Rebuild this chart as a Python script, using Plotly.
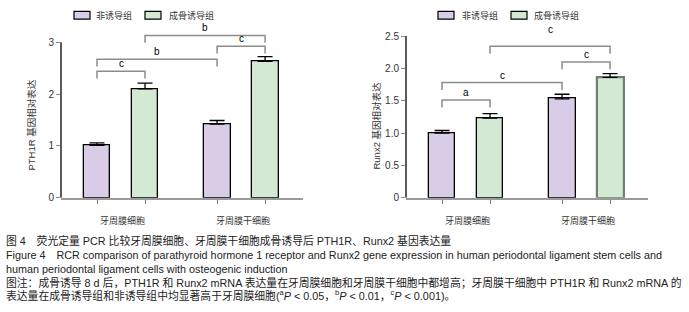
import plotly.graph_objects as go

# ---------------- data ----------------
groups = ["牙周膜细胞", "牙周膜干细胞"]
series_names = ["非诱导组", "成骨诱导组"]
bar_pos = [0, 1, 2.5, 3.5]          # non-induced/induced for each cell type
group_pos = [0.5, 3.0]

pth1r_mean = [1.01, 2.10, 1.42, 2.63]
pth1r_sd = [0.05, 0.11, 0.07, 0.09]
runx2_mean = [1.00, 1.23, 1.53, 1.86]
runx2_sd = [0.04, 0.07, 0.07, 0.06]

# significance brackets: (bar index a, bar index b, line height, label)
pth1r_sig = [(0, 1, 2.44, "c"), (0, 2, 2.67, "b"), (2, 3, 2.92, "c"), (1, 3, 3.13, "b")]
runx2_sig = [(0, 1, 1.51, "a"), (0, 2, 1.78, "c"), (2, 3, 2.10, "c"), (1, 3, 2.34, "c")]

y1_ticks = [0, 1, 2, 3]
y1_ticktext = ["0", "1", "2", "3"]
y2_ticks = [0, 0.5, 1.0, 1.5, 2.0, 2.5]
y2_ticktext = ["0", "0.5", "1.0", "1.5", "2.0", "2.5"]

caption = [
    "图 4　荧光定量 PCR 比较牙周膜细胞、牙周膜干细胞成骨诱导后 PTH1R、Runx2 基因表达量",
    "Figure 4　RCR comparison of parathyroid hormone 1 receptor and Runx2 gene expression in human periodontal ligament stem cells and",
    "human periodontal ligament cells with osteogenic induction",
    "图注：成骨诱导 8 d 后，PTH1R 和 Runx2 mRNA 表达量在牙周膜细胞和牙周膜干细胞中都增高；牙周膜干细胞中 PTH1R 和 Runx2 mRNA 的",
    "表达量在成骨诱导组和非诱导组中均显著高于牙周膜细胞(<sup>a</sup><i>P</i> < 0.05，<sup>b</sup><i>P</i> < 0.01，<sup>c</sup><i>P</i> < 0.001)。",
]

# ---------------- style ----------------
W, H = 689, 312
FONT = "Liberation Sans, Arial, Noto Sans CJK SC, sans-serif"
PURPLE = "#d8cce6"
GREEN = "#d3e9d3"
fills = [PURPLE, GREEN, PURPLE, GREEN]
GRAY = "#8c8c8c"

fig = go.Figure()

panels = [
    dict(x="x", y="y", mean=pth1r_mean, sd=pth1r_sd, sig=pth1r_sig, leg=0.14,
         dom=[61 / W, 303 / W], yr=[0, 3.518], ticks=y1_ticks, ttxt=y1_ticktext,
         ytitle="PTH1R 基因相对表达", ymax=3,
         lines=["black"] * 4, lw=[1.3] * 4),
    dict(x="x2", y="y2", mean=runx2_mean, sd=runx2_sd, sig=runx2_sig, leg=0.115,
         dom=[406 / W, 648 / W], yr=[0, 2.82], ticks=y2_ticks, ttxt=y2_ticktext,
         ytitle="Runx2 基因相对表达", ymax=2.5,
         lines=["black", "black", "black", "#6f806f"], lw=[1.3, 1.3, 1.3, 2.2]),
]

shapes = []
annotations = []
ydom = [(312 - 201.7) / H, 0.95]

for k, p in enumerate(panels):
    fig.add_trace(go.Bar(
        x=bar_pos, y=p["mean"], width=0.56, xaxis=p["x"], yaxis=p["y"],
        marker=dict(color=fills, line=dict(color=p["lines"], width=p["lw"])),
        error_y=dict(type="data", symmetric=False, array=p["sd"], arrayminus=[0] * 4,
                     color="black", thickness=1.3, width=7.5),
        showlegend=False, hoverinfo="skip",
    ))
    xa = "xaxis" if k == 0 else "xaxis2"
    ya = "yaxis" if k == 0 else "yaxis2"
    fig.layout[xa] = dict(domain=p["dom"], range=[-0.75, 4.29], anchor=p["y"],
                          showline=True, linecolor="#9a9a9a", linewidth=1.5,
                          ticks="outside", tickvals=bar_pos, ticklen=4, tickcolor="#7a7a7a",
                          tickwidth=1, showticklabels=False, showgrid=False, zeroline=False,
                          fixedrange=True)
    fig.layout[ya] = dict(domain=ydom, range=p["yr"], anchor=p["x"], showline=False,
                          ticks="outside", tickvals=p["ticks"], ticktext=p["ttxt"],
                          ticklen=4, tickcolor="#8a8a8a", tickwidth=1,
                          tickfont=dict(size=10, color="#333333", family=FONT),
                          showgrid=False, zeroline=False, fixedrange=True)
    # y axis line (stops at top tick)
    shapes.append(dict(type="line", xref="paper", yref=p["y"], x0=p["dom"][0], x1=p["dom"][0],
                       y0=0, y1=p["ymax"], line=dict(color="black", width=1.3)))
    # y axis title
    annotations.append(dict(text=p["ytitle"], xref="paper", yref="paper",
                            x=p["dom"][0] - 29 / W, y=(312 - 128) / H,
                            textangle=-90, showarrow=False, xanchor="center", yanchor="middle",
                            font=dict(size=9.5, color="#333333", family=FONT)))
    # group labels
    for g, gp in zip(groups, group_pos):
        annotations.append(dict(text=g, xref=p["x"], yref="paper", x=gp + 0.03,
                                y=(312 - 225) / H, showarrow=False, xanchor="center",
                                yanchor="middle", font=dict(size=9, color="#333333", family=FONT)))
    # significance brackets
    for i, j, h, lab in p["sig"]:
        xa_, xb_ = bar_pos[i], bar_pos[j]
        shapes.append(dict(type="path", xref=p["x"], yref=p["y"],
                           path=f"M{xa_},{h - p['leg']} L{xa_},{h} L{xb_},{h} L{xb_},{h - p['leg']}",
                           line=dict(color=GRAY, width=1.5)))
        off = 0.0
        if k == 1 and (i, j) == (1, 3):
            off = 0.14
        annotations.append(dict(text=lab, xref=p["x"], yref=p["y"], x=(xa_ + xb_) / 2,
                                y=h + off, showarrow=False, xanchor="center", yanchor="bottom",
                                font=dict(size=10, color="black", family=FONT)))

# legends (drawn in paper coordinates)
legend_sets = [(74, 94, 145, 167), (438, 460, 511, 532)]
for bx1, tx1, bx2, tx2 in legend_sets:
    for bx, tx, col, name in [(bx1, tx1, PURPLE, series_names[0]), (bx2, tx2, GREEN, series_names[1])]:
        shapes.append(dict(type="rect", xref="paper", yref="paper",
                           x0=bx / W, x1=(bx + 16) / W, y0=(312 - 19.5) / H, y1=(312 - 11.5) / H,
                           fillcolor=col, line=dict(color="black", width=1.2)))
        annotations.append(dict(text=name, xref="paper", yref="paper", x=tx / W,
                                y=(312 - 16) / H, showarrow=False, xanchor="left",
                                yanchor="middle", font=dict(size=9, color="#333333", family=FONT)))

# caption
cap_y = [245, 260, 274, 288, 301]
for line, cy in zip(caption, cap_y):
    annotations.append(dict(text=line, xref="paper", yref="paper", x=4 / W, y=(312 - cy) / H,
                            showarrow=False, xanchor="left", yanchor="middle",
                            font=dict(size=10.8, color="#222222", family=FONT)))

fig.update_layout(width=W, height=H, margin=dict(l=0, r=0, t=0, b=0),
                  paper_bgcolor="white", plot_bgcolor="white", shapes=shapes,
                  annotations=annotations, bargap=0, showlegend=False,
                  font=dict(family=FONT))

fig.write_html("out.html", config={"displayModeBar": False},
               post_script="document.body.style.margin='0';document.body.style.overflow='hidden';")
